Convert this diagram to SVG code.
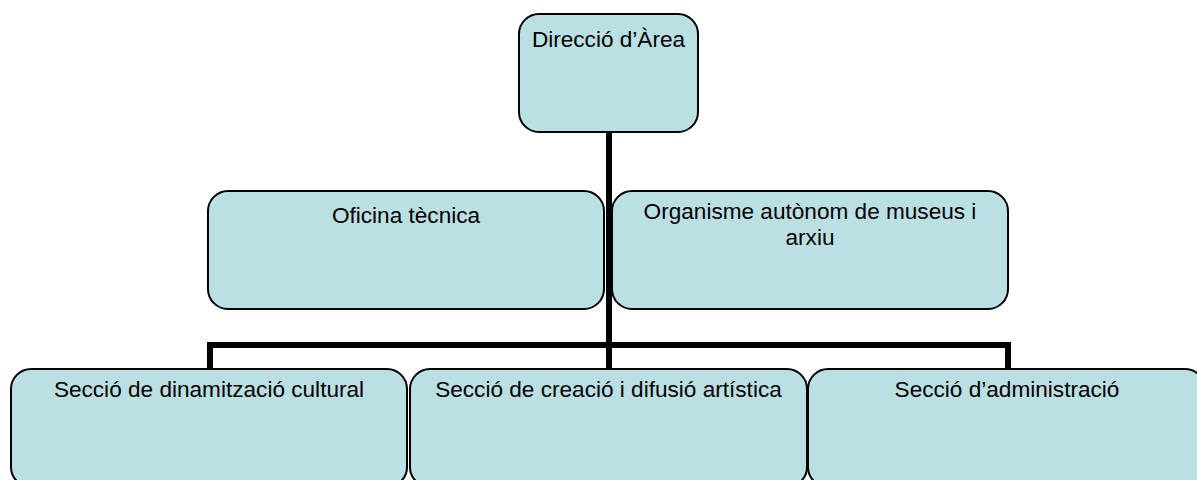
<svg xmlns="http://www.w3.org/2000/svg" width="1197" height="480" viewBox="0 0 1197 480">
<style>
.box{fill:#BBE0E3;stroke:#000;stroke-width:2}
.lbl{font-family:"Liberation Sans",Arial,sans-serif;font-size:22.6px;fill:#000;text-anchor:middle}
.conn{fill:none;stroke:#000;stroke-width:6;stroke-linejoin:miter}
</style>
<rect width="1197" height="480" fill="#fff"/>
<g id="connectors">
<line class="conn" x1="609" y1="132" x2="609" y2="369"/>
<polyline class="conn" points="210,369 210,345 1008,345 1008,369"/>
</g>
<g id="node-direccio">
<rect class="box" x="519" y="14" width="179" height="118" rx="20"/>
<text class="lbl" x="608.5" y="47">Direcció d’Àrea</text>
</g>
<g id="node-oficina">
<rect class="box" x="208" y="191" width="396" height="118" rx="20"/>
<text class="lbl" x="406" y="223">Oficina tècnica</text>
</g>
<g id="node-organisme">
<rect class="box" x="612" y="191" width="396" height="118" rx="20"/>
<text class="lbl" x="810" y="219">Organisme autònom de museus i</text>
<text class="lbl" x="810" y="245">arxiu</text>
</g>
<g id="node-dinamitzacio">
<rect class="box" x="11" y="369" width="396" height="118" rx="20"/>
<text class="lbl" x="209" y="397">Secció de dinamització cultural</text>
</g>
<g id="node-creacio">
<rect class="box" x="410" y="369" width="397" height="118" rx="20"/>
<text class="lbl" x="608.5" y="397">Secció de creació i difusió artística</text>
</g>
<g id="node-administracio">
<rect class="box" x="808" y="369" width="397" height="118" rx="20"/>
<text class="lbl" x="1007" y="397">Secció d’administració</text>
</g>
</svg>
